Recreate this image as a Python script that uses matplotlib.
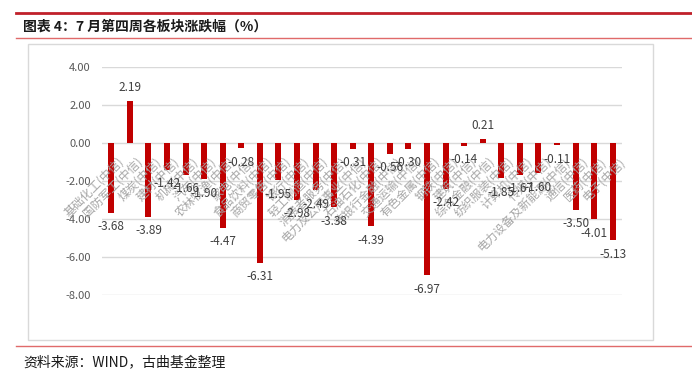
import matplotlib
matplotlib.use("Agg")
import matplotlib.pyplot as plt
from matplotlib.patches import Rectangle
from matplotlib.lines import Line2D

plt.rcParams['font.family'] = ['Noto Sans CJK SC', 'DejaVu Sans']

# data
sectors = ['基础化工(中信)', '国防军工(中信)', '煤炭(中信)', '建材(中信)', '机械(中信)',
           '汽车(中信)', '农林牧渔(中信)', '家电(中信)', '食品饮料(中信)', '商贸零售(中信)',
           '银行(中信)', '轻工制造(中信)', '消费者服务(中信)', '电力及公用事业(中信)',
           '石油石化(中信)', '非银行金融(中信)', '交通运输(中信)', '有色金属(中信)',
           '钢铁(中信)', '建筑(中信)', '综合金融(中信)', '纺织服装(中信)', '计算机(中信)',
           '传媒(中信)', '电力设备及新能源(中信)', '通信(中信)', '医药(中信)', '电子(中信)']
changes = [-3.68, 2.19, -3.89, -1.42, -1.66, -1.90, -4.47, -0.28, -6.31, -1.95,
           -2.98, -2.49, -3.38, -0.31, -4.39, -0.56, -0.30, -6.97, -2.42, -0.14,
           0.21, -1.85, -1.67, -1.60, -0.11, -3.50, -4.01, -5.13]
yticks = [4, 2, 0, -2, -4, -6, -8]

W, H = 692, 382
fig = plt.figure(figsize=(W / 100, H / 100), dpi=100)

# frame decorations
def hline(y, x0, x1, color, lw):
    fig.add_artist(Line2D([x0 / W, x1 / W], [1 - y / H, 1 - y / H], color=color, lw=lw))

hline(13, 16, 692, '#c0202a', 2.0)
hline(38, 16, 692, '#e06a6a', 1.0)
hline(346, 16, 692, '#e06a6a', 1.0)
fig.add_artist(Rectangle((28 / W, 1 - 340 / H), (653 - 28) / W, (340 - 44) / H,
                         fill=False, edgecolor='#d9d9d9', lw=1.0))

fig.text(23 / W, 1 - 27 / H, '图表 4：7 月第四周各板块涨跌幅（%）', fontsize=10,
         fontweight='bold', color='#1a1a1a', va='center', ha='left')
fig.text(23 / W, 1 - 363 / H, '资料来源：WIND，古曲基金整理', fontsize=10,
         color='#1a1a1a', va='center', ha='left')

ax = fig.add_axes([102 / W, 1 - 295 / H, (622 - 102) / W, (295 - 67) / H])
x = range(len(changes))
ax.bar(x, changes, width=0.33, color='#c00000', zorder=3)
ax.set_xlim(-0.5, len(changes) - 0.5)
ax.set_ylim(-8, 4)
ax.set_yticks(yticks)
ax.set_yticklabels([f'{v:.2f}' for v in yticks], fontsize=8, color='#595959')
ax.tick_params(axis='y', length=0, pad=8)
ax.set_xticks([])
ax.grid(axis='y', color='#d9d9d9', lw=1.0, zorder=0)
for s in ax.spines.values():
    s.set_visible(False)

for i, (name, v) in enumerate(zip(sectors, changes)):
    ax.annotate(name, xy=(i, 0), xytext=(6, -12), textcoords='offset pixels',
                rotation=45, rotation_mode='anchor', ha='right', va='top',
                fontsize=8.5, color='#a6a6a6', fontweight='light', zorder=4)
    off = 14 if v >= 0 else -14
    ax.annotate(f'{v:.2f}', xy=(i, v), xytext=(0, off), textcoords='offset pixels',
                ha='center', va='center', fontsize=8.5, color='#404040', zorder=5)

fig.savefig('out.png', dpi=100)
